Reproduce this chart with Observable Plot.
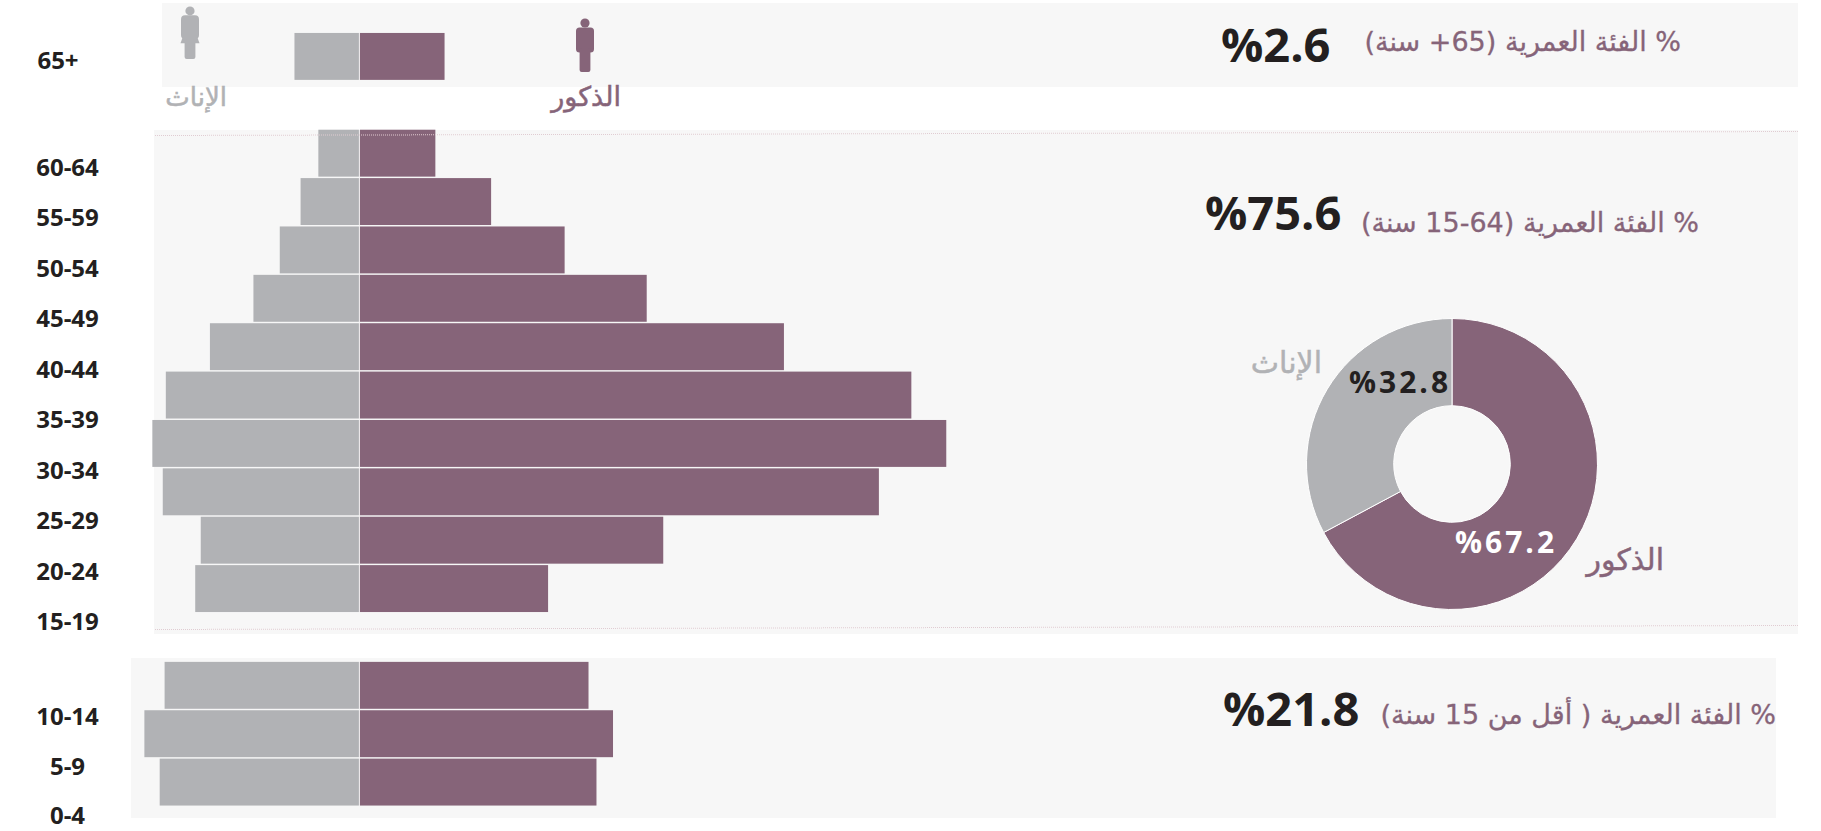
<!DOCTYPE html>
<html lang="ar">
<head>
<meta charset="utf-8">
<script src="https://cdn.jsdelivr.net/npm/d3@7"></script>
<script src="https://cdn.jsdelivr.net/npm/@observablehq/plot@0.6"></script>
<style>
html,body{margin:0;padding:0;background:#fff;overflow:hidden}
#stage{position:relative;width:1821px;height:831px;overflow:hidden;font-family:"Open Sans","Noto Sans","DejaVu Sans",sans-serif}
#stage>svg,#stage>.plot,#stage svg{position:absolute;background:transparent}
.panel{position:absolute;background:#f7f7f7}
.dots{position:absolute;border-top:1px dotted #e0ccd2;transform-origin:left top}
.note{position:absolute;white-space:nowrap;line-height:1;transform:translateY(-50%)}
.ar{direction:rtl;font-family:"DejaVu Sans",sans-serif;color:#866479;-webkit-text-stroke:.3px currentColor}
.num{direction:ltr;font-family:"Open Sans",sans-serif;font-weight:700;color:#231f20}
</style>
</head>
<body>
<div id="stage"></div>
<script>
// ---- data (percent of population) ----
const ageGroups   = ["65+","60-64","55-59","50-54","45-49","40-44","35-39","30-34","25-29","20-24","15-19","10-14","5-9","0-4"];
const maleValues  = [1.39,1.24,2.15,3.35,4.69,6.93,9.01,9.58,8.48,4.96,3.08,3.74,4.14,3.87];
const femaleValues= [1.06,0.67,0.96,1.30,1.73,2.44,3.16,3.38,3.21,2.59,2.68,3.18,3.51,3.26];
const sexes       = ["الذكور","الإناث"];
const sexShares   = [67.2,32.8];
const colors      = ["#866479","#b1b2b5"];

// ---- layout ----
const W = 1821, H = 831;
const pxPerPercent = 61.26, zeroX = 359.4;
const rows = [ageGroups[0],"gapA",...ageGroups.slice(1,11),"gapB",...ageGroups.slice(11)];
const stage = document.getElementById("stage");
const place = (el,l,t)=>{el.style.position="absolute";el.style.left=l+"px";el.style.top=t+"px";stage.append(el);return el;};

[[162,3,1636,84],[154,130,1644,504],[131,658,1645,160]].forEach(([l,t,w,h])=>{
  const d=document.createElement("div");d.className="panel";
  d.style.cssText=`left:${l}px;top:${t}px;width:${w}px;height:${h}px`;stage.append(d);
});

// ---- pyramid ----
const table = ageGroups.map((age,i)=>({age,male:maleValues[i],female:femaleValues[i]}));
const pyramid = Plot.plot({
  width:W,height:H,margin:0,
  style:{background:"transparent"},
  x:{domain:[-zeroX/pxPerPercent,(W-zeroX)/pxPerPercent],range:[0,W],axis:null},
  y:{domain:rows,range:[31.5,807],padding:0.03,round:false,axis:null},
  marks:[
    Plot.barX(table,{y:"age",x1:0,x2:"male",fill:colors[0],insetLeft:0.5}),
    Plot.barX(table,{y:"age",x1:d=>-d.female,x2:0,fill:colors[1],insetRight:0.5})
  ]
});
place(pyramid,0,0);

// ---- age labels: own pitch, slightly wider than the bars' ----
const labelStyle = {text:d=>d,frameAnchor:"middle",fontSize:24,fontWeight:700,
  fontFamily:"'Open Sans',sans-serif",fill:"#231f20",y:d=>rows.indexOf(d)};
const ageAxis = Plot.plot({
  width:134,height:H,margin:0,
  style:{background:"transparent"},
  x:{axis:null},
  y:{type:"linear",domain:[0,2,11,13,15],range:[61,167.5,622,717,816],axis:null},
  marks:[
    Plot.text(ageGroups.slice(0,1),{...labelStyle,dx:-9.5}),
    Plot.text(ageGroups.slice(1),labelStyle)
  ]
});
place(ageAxis,0,0);

// ---- donut ----
const donut = Plot.plot({
  width:300,height:300,margin:0,
  style:{background:"transparent"},
  color:{domain:sexes,range:colors},
  marks:[
    Plot.dot(sexes,{fill:d=>d,frameAnchor:"middle",
      render:(I,scales,values,dims)=>{
        const pie=d3.pie().sort(null).value(i=>sexShares[i])(I);
        const arc=d3.arc().innerRadius(58.3).outerRadius(145.5);
        const g=d3.create("svg:g").attr("transform",`translate(${dims.width/2},${dims.height/2})`);
        g.selectAll("path").data(pie).join("path")
          .attr("d",arc).attr("fill",d=>values.fill[d.data]).attr("stroke","#fff").attr("stroke-width",1);
        return g.node();
      }})
  ]
});
place(donut,1451.5-150,464-150);

// ---- dotted separators ----
[[155,135,1643,-4],[155,628.5,1643,-4]].forEach(([l,t,w,dy])=>{
  const d=document.createElement("div");d.className="dots";
  d.style.cssText=`left:${l}px;top:${t}px;width:${w}px;transform:rotate(${Math.atan2(dy,w)}rad)`;stage.append(d);
});

// ---- people icons ----
const icon = (inner,fill,l,t,h)=>{
  const n=document.createElementNS("http://www.w3.org/2000/svg","svg");
  n.setAttribute("viewBox","0 0 20 54");n.setAttribute("width",20);n.setAttribute("height",h);
  n.setAttribute("preserveAspectRatio","none");
  n.style.cssText=`left:${l}px;top:${t}px`;n.setAttribute("fill",fill);n.innerHTML=inner;stage.append(n);
};
icon('<circle cx="10" cy="5" r="4.6"/><rect x="1" y="9.5" width="18" height="25" rx="3.5"/><rect x="4.6" y="30" width="10.8" height="24" rx="2"/>',colors[0],575,18,54);
icon('<circle cx="10" cy="5" r="4.6"/><rect x="1" y="9.5" width="18" height="24" rx="4"/><path d="M4 28H16L19.5 38H.5Z"/><rect x="4.6" y="34" width="10.8" height="20" rx="2"/>',colors[1],180,6,53);

// ---- texts ----
const notes = [
  ["ar","% الفئة العمرية (65+ سنة)",1681,41,27,"right"],
  ["ar","% الفئة العمرية (64-15 سنة)",1699,222,27,"right"],
  ["ar","% الفئة العمرية ( أقل من 15 سنة)",1776,714,27,"right"],
  ["num","%2.6",1221,44,47,"left"],
  ["num","%75.6",1205,212,47,"left"],
  ["num","%21.8",1223,708,47,"left"],
];
notes.forEach(([cls,txt,x,y,fs,side])=>{
  const d=document.createElement("div");d.className="note "+cls;d.textContent=txt;
  d.style.fontSize=fs+"px";d.style.top=y+"px";
  if(side==="right")d.style.right=(W-x)+"px";else d.style.left=x+"px";
  stage.append(d);
});
[[sexes[0],621,96,colors[0],27],[sexes[1],227,97,colors[1],26],[sexes[0],1664,560,colors[0],30],[sexes[1],1322,363,colors[1],30]].forEach(([t,x,y,c,fs])=>{
  const d=document.createElement("div");d.className="note ar";d.textContent=t;
  d.style.cssText=`font-size:${fs}px;right:${W-x}px;top:${y}px;color:${c};-webkit-text-stroke:.5px ${c}`;stage.append(d);
});
[[`%${sexShares[1]}`,1349,382,"#231f20"],[`%${sexShares[0]}`,1455,542,"#ffffff"]].forEach(([t,x,y,c])=>{
  const d=document.createElement("div");d.className="note num";d.textContent=t;
  d.style.cssText=`font-size:30px;letter-spacing:3px;left:${x}px;top:${y}px;color:${c}`;stage.append(d);
});
</script>
</body>
</html>
